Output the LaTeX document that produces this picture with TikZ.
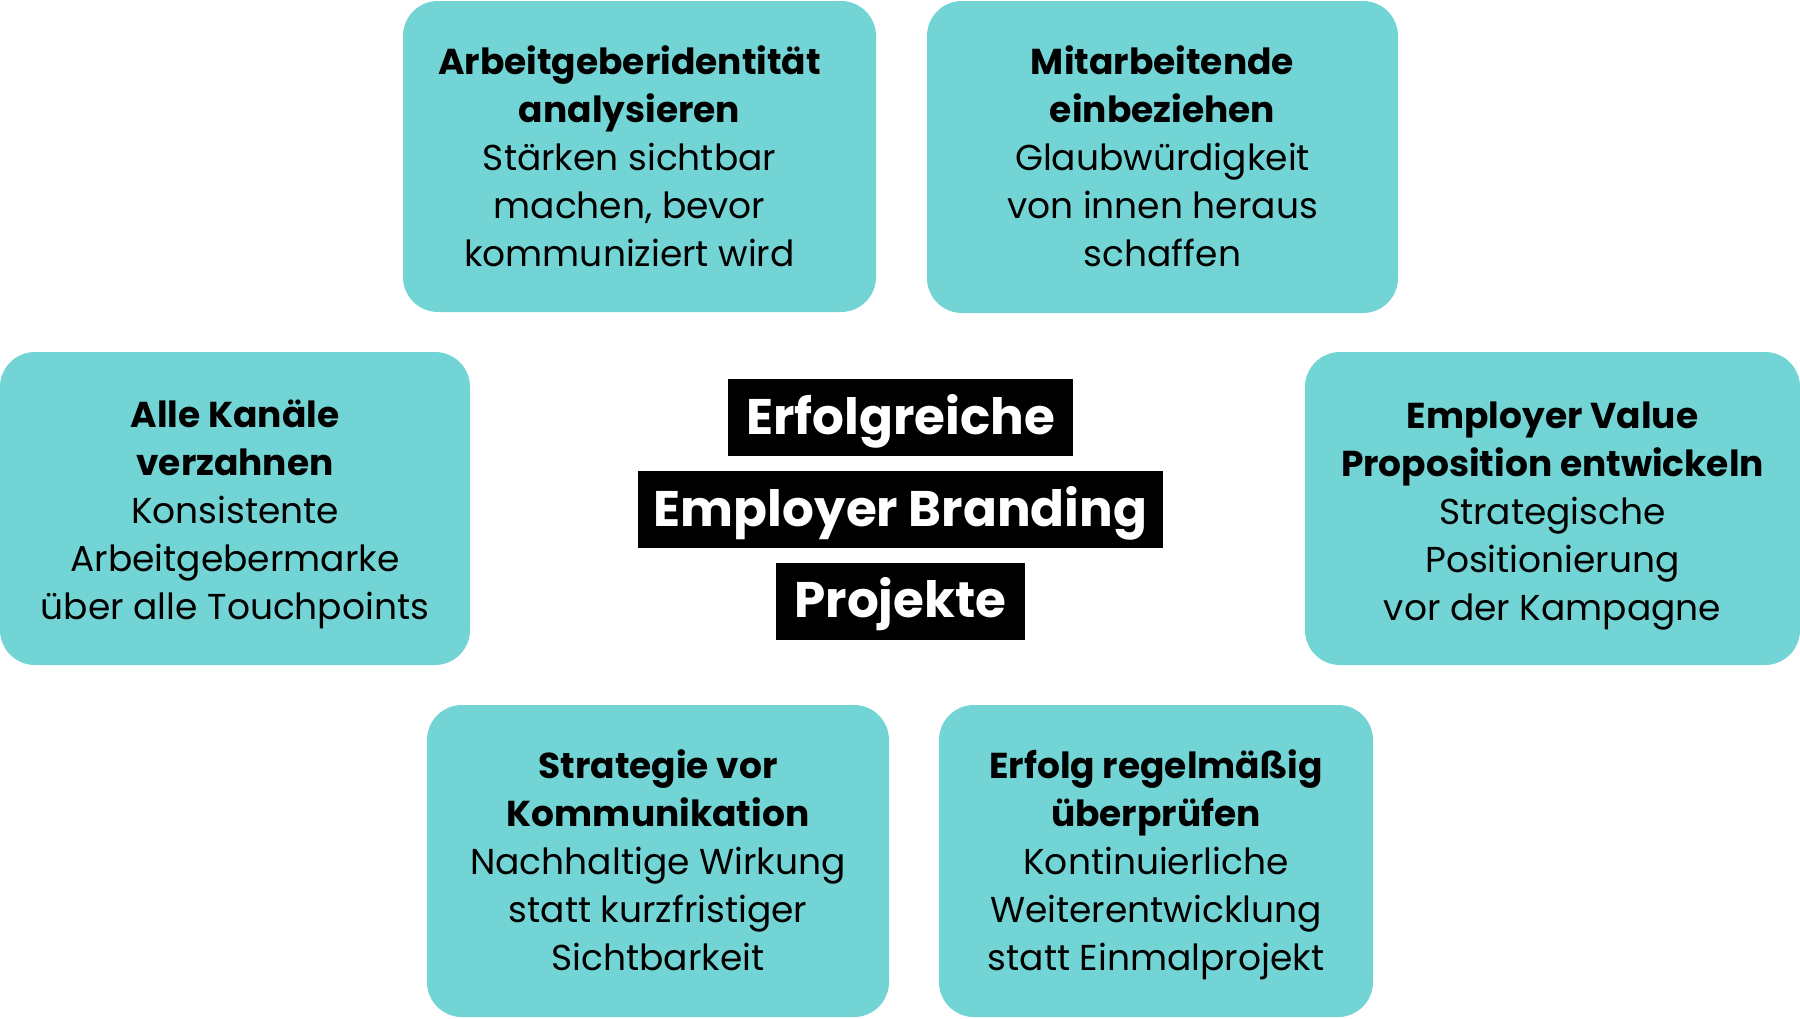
\documentclass[tikz,border=0pt]{standalone}
\usepackage{fontspec}
\setmainfont{Poppins}
\definecolor{teal}{HTML}{72D4D4}
\tikzset{
  card/.style={fill=teal, rounded corners=17.5pt, inner sep=0pt},
  cardtext/.style={align=center, inner sep=0pt, font=\fontsize{18}{24}\selectfont, text=black},
  ttlbox/.style={fill=black, inner sep=0pt, minimum height=38.5pt},
  ttl/.style={text=white, inner sep=0pt, font=\fontsize{25}{30}\selectfont\bfseries}
}
\begin{document}
\begin{tikzpicture}[x=0.5pt,y=-0.5pt]
\useasboundingbox (0,0) rectangle (1800,1018);
\node[card, minimum width=236.5pt, minimum height=155.5pt] (a) at (639.5,156.5) {};
\node[cardtext] (a-t) at (629.5,156.5)
  {\textbf{Arbeitgeberidentität}\\\textbf{analysieren}\\Stärken sichtbar\\machen, bevor\\kommuniziert wird};
\node[card, minimum width=235.5pt, minimum height=156pt] (b) at (1162.5,157) {};
\node[cardtext] (b-t) at (1162.5,156)
  {\textbf{Mitarbeitende}\\\textbf{einbeziehen}\\Glaubwürdigkeit\\von innen heraus\\schaffen};
\node[card, minimum width=235pt, minimum height=156.5pt] (c) at (235,508.5) {};
\node[cardtext] (c-t) at (235,514.5)
  {\textbf{Alle Kanäle}\\\textbf{verzahnen}\\Konsistente\\Arbeitgebermarke\\über alle Touchpoints};
\node[card, minimum width=247.5pt, minimum height=156.5pt] (d) at (1552.5,508.5) {};
\node[cardtext] (d-t) at (1552.5,516.5)
  {\textbf{Employer Value}\\\textbf{Proposition entwickeln}\\Strategische\\Positionierung\\vor der Kampagne};
\node[card, minimum width=231pt, minimum height=156pt] (e) at (658,861) {};
\node[cardtext] (e-t) at (658,860)
  {\textbf{Strategie vor}\\\textbf{Kommunikation}\\Nachhaltige Wirkung\\statt kurzfristiger\\Sichtbarkeit};
\node[card, minimum width=217pt, minimum height=156pt] (f) at (1156,861) {};
\node[cardtext] (f-t) at (1156,864.5)
  {\textbf{Erfolg regelmäßig}\\\textbf{überprüfen}\\Kontinuierliche\\Weiterentwicklung\\statt Einmalprojekt};
\node[ttlbox, minimum width=172.5pt] (t1b) at (900.5,417.5) {};
\node[ttl] (t1) at (900.5,421) {Erfolgreiche};
\node[ttlbox, minimum width=262.5pt] (t2b) at (900.5,509.5) {};
\node[ttl] (t2) at (900.5,513) {Employer Branding};
\node[ttlbox, minimum width=124.5pt] (t3b) at (900.5,601) {};
\node[ttl] (t3) at (900.5,604.5) {Projekte};
\end{tikzpicture}
\end{document}
